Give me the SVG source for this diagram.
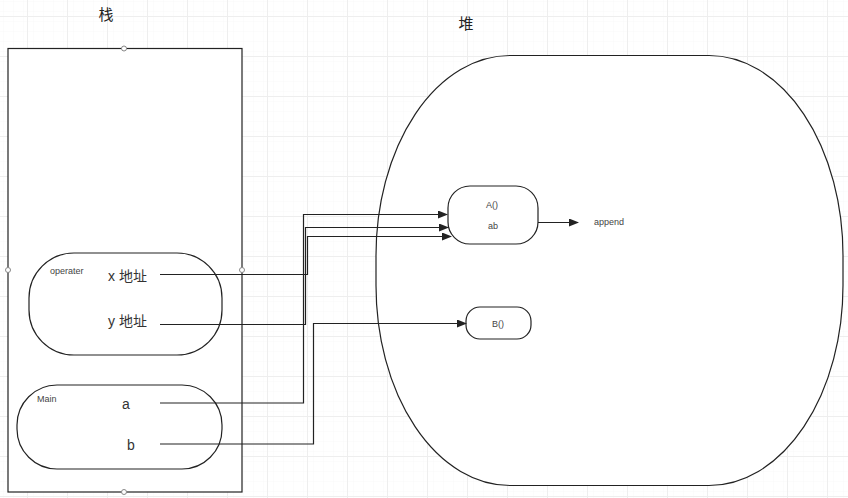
<svg xmlns="http://www.w3.org/2000/svg" width="848" height="498" viewBox="0 0 848 498">
<style>
text{font-family:"Liberation Sans","Noto Sans CJK SC",sans-serif;fill:#222}
.small{font-size:9px;fill:#444}
.mid{font-size:14px;fill:#333}
.shape{fill:#fff;stroke:#222;stroke-width:1.2}
.conn{fill:none;stroke:#222;stroke-width:1.2}
.handle{fill:#fff;stroke:#888;stroke-width:1}
</style>
<defs>
<pattern id="minor" x="27" y="16" width="10" height="10" patternUnits="userSpaceOnUse">
<path d="M10 0V10M0 10H10" fill="none" stroke="#f8f8f8" stroke-width="1"/>
</pattern>
<pattern id="major" x="27" y="16" width="40" height="40" patternUnits="userSpaceOnUse">
<rect width="40" height="40" fill="url(#minor)"/>
<path d="M0.5 0V40M0 0.5H40" fill="none" stroke="#eeeeee" stroke-width="1"/>
</pattern>
<marker id="arr" markerWidth="10" markerHeight="8" refX="9" refY="4" orient="auto" markerUnits="userSpaceOnUse">
<path d="M0 0L10 4L0 8Z" fill="#222"/>
</marker>
</defs>
<rect width="848" height="498" fill="#fff"/>
<rect width="848" height="498" fill="url(#major)"/>

<text x="106" y="20" font-size="15" text-anchor="middle">栈</text>
<text x="466" y="29" font-size="15" text-anchor="middle">堆</text>

<g id="stack">
<rect class="shape" x="8" y="48.5" width="234" height="443.5"/>
<circle class="handle" cx="124" cy="48.5" r="2.5"/>
<circle class="handle" cx="8" cy="270" r="2.5"/>
<circle class="handle" cx="242" cy="270" r="2.5"/>
<circle class="handle" cx="124" cy="492" r="2.5"/>
</g>

<g id="heap">
<rect class="shape" x="376" y="55.5" width="467" height="430" rx="134" ry="200"/>
</g>

<g id="operater">
<rect class="shape" x="29" y="253" width="193" height="102" rx="45" ry="45"/>
<text class="small" x="50" y="274">operater</text>
<text class="mid" x="108" y="281">x 地址</text>
<text class="mid" x="108" y="326">y 地址</text>
</g>

<g id="main">
<rect class="shape" x="17" y="385" width="205" height="84" rx="40" ry="40"/>
<text class="small" x="37" y="402">Main</text>
<text class="mid" x="122" y="409">a</text>
<text class="mid" x="127" y="450">b</text>
</g>

<g id="A">
<rect class="shape" x="448" y="186" width="90" height="58" rx="22" ry="22"/>
<text class="small" x="492" y="208" text-anchor="middle">A()</text>
<text class="small" x="493" y="229" text-anchor="middle">ab</text>
</g>

<g id="append">
<text class="small" x="594" y="225">append</text>
</g>

<g id="B">
<rect class="shape" x="466" y="307" width="65" height="32" rx="14" ry="14"/>
<text class="small" x="498" y="327" text-anchor="middle">B()</text>
</g>

<g id="connectors">
<path class="conn" marker-end="url(#arr)" d="M160 403H303.5V214.5H447"/>
<path class="conn" marker-end="url(#arr)" d="M160 324.5H305.5V227.5H448"/>
<path class="conn" marker-end="url(#arr)" d="M160 274.5H307.5V236.5H451"/>
<path class="conn" marker-end="url(#arr)" d="M160 444H313.5V323.5H466"/>
<path class="conn" marker-end="url(#arr)" d="M538 222.5H578"/>
</g>
</svg>
